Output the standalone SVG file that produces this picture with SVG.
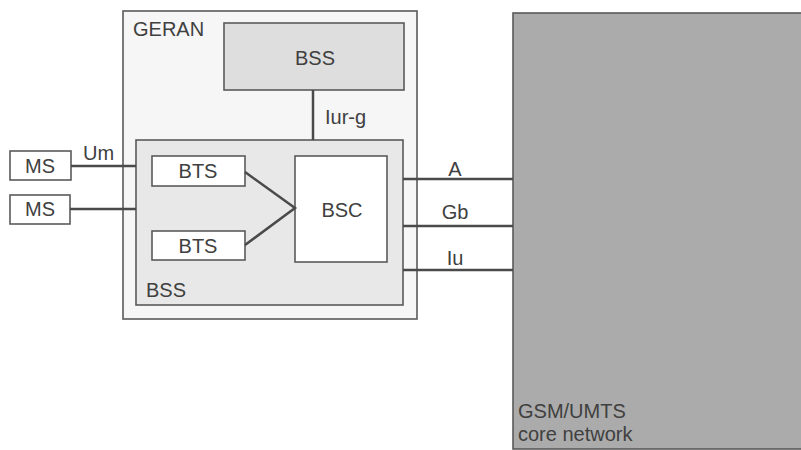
<svg xmlns="http://www.w3.org/2000/svg" width="801" height="450" viewBox="0 0 801 450">
<style>
text{font-family:"Liberation Sans",Arial,sans-serif;fill:#404040;font-size:20px}
.box{stroke:#5a5a5a;stroke-width:1.6}
.ln{stroke:#4a4a4a;stroke-width:2.5;fill:none}
</style>
<rect width="801" height="450" fill="#fff"/>
<g id="core">
<rect class="box" x="513" y="13" width="290" height="436" fill="#ababab"/>
<text x="518" y="418">GSM/UMTS</text>
<text x="518" y="441">core network</text>
</g>
<g id="geran">
<rect class="box" x="123" y="11" width="294" height="308" fill="#f6f6f6"/>
<text x="133" y="36">GERAN</text>
</g>
<g id="bss-top">
<rect class="box" x="224" y="23" width="180" height="67" fill="#dedede"/>
<text x="315" y="65" text-anchor="middle">BSS</text>
</g>
<g id="bss">
<rect class="box" x="136" y="140" width="267" height="165" fill="#e8e8e8"/>
<text x="146" y="297">BSS</text>
</g>
<g id="bts1">
<rect class="box" x="152" y="156" width="93" height="30" fill="#fff"/>
<text x="198" y="178" text-anchor="middle">BTS</text>
</g>
<g id="bts2">
<rect class="box" x="152" y="231" width="93" height="29" fill="#fff"/>
<text x="198" y="253" text-anchor="middle">BTS</text>
</g>
<g id="bsc">
<rect class="box" x="295" y="156" width="92" height="106" fill="#fff"/>
<text x="342" y="217" text-anchor="middle">BSC</text>
</g>
<g id="ms1">
<rect class="box" x="10" y="151" width="61" height="29" fill="#fff"/>
<text x="40" y="173" text-anchor="middle">MS</text>
</g>
<g id="ms2">
<rect class="box" x="10" y="195" width="60" height="29" fill="#fff"/>
<text x="40" y="216" text-anchor="middle">MS</text>
</g>
<g id="connectors">
<line class="ln" x1="313" y1="90" x2="313" y2="140"/>
<line class="ln" x1="71" y1="166" x2="136" y2="166"/>
<line class="ln" x1="70" y1="209" x2="136" y2="209"/>
<polyline class="ln" points="245,172 295,208 245,245"/>
<line class="ln" x1="403" y1="179" x2="513" y2="179"/>
<line class="ln" x1="403" y1="226" x2="513" y2="226"/>
<line class="ln" x1="403" y1="270" x2="513" y2="270"/>
</g>
<g id="labels">
<text x="325" y="124">Iur-g</text>
<text x="83" y="160">Um</text>
<text x="455" y="176" text-anchor="middle">A</text>
<text x="455" y="219" text-anchor="middle">Gb</text>
<text x="455" y="265" text-anchor="middle">Iu</text>
</g>
</svg>
